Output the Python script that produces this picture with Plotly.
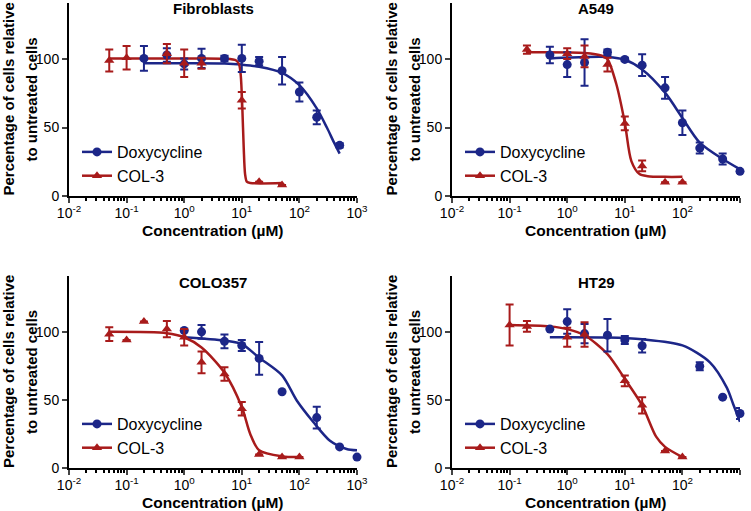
import plotly.graph_objects as go

# ---- data (concentration in uM, % of untreated cells) ----
titles = ["Fibroblasts", "A549", "COLO357", "HT29"]
ytitle_lines = ["Percentage of cells relative", "to untreated cells"]

fib_doxy_x = [0.2, 0.5, 1, 2, 5, 10, 20, 50, 100, 200, 500]
fib_doxy_y = [100.5, 103, 96.5, 100.5, 100.5, 100.5, 98.5, 91.5, 76, 57.5, 37]
fib_doxy_err = [9, 5, 4, 7, 2, 10, 3, 10, 7, 5, 1.5]
fib_col_x = [0.05, 0.1, 0.5, 1, 2, 10, 20, 50]
fib_col_y = [99, 101, 104, 97, 97, 70, 10.5, 8]
fib_col_err = [8, 8.5, 7, 10, 4, 6, 0, 0]
fib_doxy_fit_x = [0.2, 1, 5, 10, 20, 50, 100, 200, 300, 400, 500]
fib_doxy_fit_y = [97, 97, 96.8, 96, 94.5, 90, 81, 64, 50, 39, 31]
fib_col_fit_x = [0.05, 1, 5, 8, 9, 9.6, 10.2, 10.8, 11.4, 12.2, 14, 50]
fib_col_fit_y = [100.5, 100.5, 100.3, 99, 96, 88, 65, 35, 16, 10.5, 9.5, 9.5]

a549_doxy_x = [0.5, 1, 2, 5, 10, 20, 50, 100, 200, 500, 1000]
a549_doxy_y = [103, 96, 97.5, 105, 99.8, 95.6, 79, 53.5, 35, 27, 18]
a549_doxy_err = [6, 9, 17, 2, 1, 8, 8, 9, 4, 4, 1]
a549_col_x = [0.2, 1, 2, 5, 10, 20, 50, 100]
a549_col_y = [107, 104, 102, 96, 53, 22, 10, 10]
a549_col_err = [3, 4, 8, 5, 5, 4, 0, 0]
a549_doxy_fit_x = [0.5, 2, 5, 10, 20, 50, 100, 200, 500, 1000]
a549_doxy_fit_y = [100.5, 101.5, 101.5, 99.5, 92.5, 75.5, 57, 39, 27, 19.5]
a549_col_fit_x = [0.2, 2, 4, 5, 7.1, 10, 13, 18, 25, 50, 100]
a549_col_fit_y = [105, 104.5, 102.5, 100, 82, 53.5, 25.5, 16, 14.5, 14, 14]

colo_doxy_x = [1, 2, 5, 10, 20, 50, 200, 500, 1000]
colo_doxy_y = [101, 100, 93, 90, 80.5, 56, 37, 15.5, 8]
colo_doxy_err = [0, 5, 5, 4, 12, 0, 8, 0, 0]
colo_col_x = [0.05, 0.1, 0.2, 0.5, 1, 2, 5, 10, 20, 50, 100]
colo_col_y = [98.3, 94, 107.5, 102, 96, 77.6, 69, 43.5, 10, 8, 8]
colo_col_err = [5, 0, 0, 6, 6, 8, 5, 5, 0, 0, 0]
colo_doxy_fit_x = [1, 5, 10, 20, 50, 90, 174, 339, 660, 1000]
colo_doxy_fit_y = [96, 93.5, 91, 81, 68, 49.6, 33.8, 20, 14, 13]
colo_col_fit_x = [0.05, 0.5, 1, 2, 5, 10, 14, 20, 50, 100]
colo_col_fit_y = [100, 99, 96, 88.5, 70, 44.8, 25, 13, 8.5, 8]

ht_doxy_x = [0.5, 1, 2, 5, 10, 20, 200, 500, 1000]
ht_doxy_y = [102, 107.5, 98.7, 97.5, 94, 89.8, 74.7, 52, 40]
ht_doxy_err = [0, 9, 7, 12, 3, 5, 3, 0, 4]
ht_col_x = [0.1, 0.2, 1, 2, 10, 20, 50, 100]
ht_col_y = [105, 104, 96, 98, 64, 46, 12.4, 8]
ht_col_err = [15, 4, 7, 9, 4, 6, 0, 0]
ht_doxy_fit_x = [0.5, 5, 20, 100, 300, 590, 760, 1000]
ht_doxy_fit_y = [96, 95.8, 94.5, 90, 77.6, 59, 47, 34]
ht_col_fit_x = [0.1, 0.5, 1, 2, 5, 10, 20, 35, 50, 100]
ht_col_fit_y = [105, 104, 102, 97.5, 83.7, 65.5, 46, 23, 15.5, 8]

panels = [
    (fib_doxy_x, fib_doxy_y, fib_doxy_err, fib_col_x, fib_col_y, fib_col_err,
     fib_doxy_fit_x, fib_doxy_fit_y, fib_col_fit_x, fib_col_fit_y),
    (a549_doxy_x, a549_doxy_y, a549_doxy_err, a549_col_x, a549_col_y, a549_col_err,
     a549_doxy_fit_x, a549_doxy_fit_y, a549_col_fit_x, a549_col_fit_y),
    (colo_doxy_x, colo_doxy_y, colo_doxy_err, colo_col_x, colo_col_y, colo_col_err,
     colo_doxy_fit_x, colo_doxy_fit_y, colo_col_fit_x, colo_col_fit_y),
    (ht_doxy_x, ht_doxy_y, ht_doxy_err, ht_col_x, ht_col_y, ht_col_err,
     ht_doxy_fit_x, ht_doxy_fit_y, ht_col_fit_x, ht_col_fit_y),
]

decade_ticks = [0.01, 0.1, 1, 10, 100, 1000]
decade_text = ["10<sup>-2</sup>", "10<sup>-1</sup>", "10<sup>0</sup>",
               "10<sup>1</sup>", "10<sup>2</sup>", "10<sup>3</sup>"]

BLUE = "#1c2688"
RED = "#a81b1b"
FONT = "Liberation Sans, Arial, sans-serif"
W, H = 751, 511

# pixel boxes of each plot area: (left, right, top, bottom)
boxes = [(69, 357, 3, 196), (452, 740, 3, 196), (69, 357, 276, 468), (452, 740, 276, 468)]

minor_vals = [m * d for d in decade_ticks[:-1] for m in range(2, 10)]

fig = go.Figure()

for i, (p, box) in enumerate(zip(panels, boxes)):
    dx, dy, de, cx, cy, ce, dfx, dfy, cfx, cfy = p
    n = "" if i == 0 else str(i + 1)
    xa, ya = "x" + n, "y" + n
    lg = "legend" + n

    fig.add_trace(go.Scatter(x=dfx, y=dfy, mode="lines", line=dict(color=BLUE, width=2.5, shape="spline", smoothing=0.8),
                             xaxis=xa, yaxis=ya, showlegend=False, hoverinfo="skip", cliponaxis=False))
    fig.add_trace(go.Scatter(x=cfx, y=cfy, mode="lines", line=dict(color=RED, width=2.5, shape="spline", smoothing=0.8),
                             xaxis=xa, yaxis=ya, showlegend=False, hoverinfo="skip", cliponaxis=False))
    fig.add_trace(go.Scatter(x=dx, y=dy, mode="markers", marker=dict(symbol="circle", size=9, color=BLUE),
                             error_y=dict(type="data", array=de, color=BLUE, thickness=2, width=4),
                             xaxis=xa, yaxis=ya, showlegend=False, cliponaxis=False))
    fig.add_trace(go.Scatter(x=cx, y=cy, mode="markers", marker=dict(symbol="triangle-up", size=9, color=RED),
                             error_y=dict(type="data", array=ce, color=RED, thickness=2, width=4),
                             xaxis=xa, yaxis=ya, showlegend=False, cliponaxis=False))
    # legend entries (line + marker, as in the original)
    fig.add_trace(go.Scatter(x=[None], y=[None], mode="lines+markers", name="Doxycycline",
                             line=dict(color=BLUE, width=2.5), marker=dict(symbol="circle", size=9, color=BLUE),
                             xaxis=xa, yaxis=ya, legend=lg))
    fig.add_trace(go.Scatter(x=[None], y=[None], mode="lines+markers", name="COL-3",
                             line=dict(color=RED, width=2.5), marker=dict(symbol="triangle-up", size=9, color=RED),
                             xaxis=xa, yaxis=ya, legend=lg))

    l, r, t, b = box
    fig.layout["xaxis" + n] = dict(
        type="log", range=[-2, 3], domain=[l / W, r / W], anchor=ya, automargin=False,
        tickvals=decade_ticks, ticktext=decade_text, ticks="outside", ticklen=5, tickwidth=2,
        ticklabelstandoff=-2,
        showline=True, linecolor="black", linewidth=2, showgrid=False, zeroline=False,
        tickfont=dict(size=14, color="black", family=FONT),
        minor=dict(tickvals=minor_vals, ticks="outside", ticklen=3, tickwidth=1.5, tickcolor="black"),
    )
    fig.layout["yaxis" + n] = dict(
        range=[0, 141], domain=[1 - b / H, 1 - t / H], anchor=xa, automargin=False,
        tickvals=[0, 50, 100], ticks="outside", ticklen=5, tickwidth=2,
        showline=True, linecolor="black", linewidth=2, showgrid=False, zeroline=False,
        tickfont=dict(size=14, color="black", family=FONT),
    )
    fig.layout[lg] = dict(
        x=(l + 8) / W, y=1 - (b - 61) / H, xanchor="left", yanchor="top",
        bgcolor="rgba(0,0,0,0)", font=dict(size=16, color="black", family=FONT),
        tracegroupgap=0, itemwidth=30,
    )

    cxm = (l + r) / 2
    fig.add_annotation(text="<b>%s</b>" % titles[i], x=cxm / W, y=1 - (t + 6) / H, xref="paper", yref="paper",
                       showarrow=False, font=dict(size=15, color="black", family=FONT),
                       xanchor="center", yanchor="middle")
    fig.add_annotation(text="<b>Concentration (µM)</b>", x=cxm / W, y=1 - (b + 34) / H, xref="paper", yref="paper",
                       showarrow=False, font=dict(size=15.5, color="black", family=FONT),
                       xanchor="center", yanchor="middle")
    for k, (line_txt, off) in enumerate(zip(ytitle_lines, [61, 38])):
        fig.add_annotation(text="<b>%s</b>" % line_txt,
                           x=(l - off) / W, y=1 - ((t + b) / 2) / H, xref="paper", yref="paper",
                           showarrow=False, textangle=-90, font=dict(size=15, color="black", family=FONT),
                           xanchor="center", yanchor="middle")

fig.update_layout(
    width=W, height=H, margin=dict(l=0, r=0, t=0, b=0, autoexpand=False),
    paper_bgcolor="white", plot_bgcolor="white",
    font=dict(family=FONT, color="black"),
)

# drop the browser's default 8px body margin so the figure sits at the page origin
fig.write_html("out.html", config={"displayModeBar": False},
               post_script="document.body.style.margin = '0px';")
